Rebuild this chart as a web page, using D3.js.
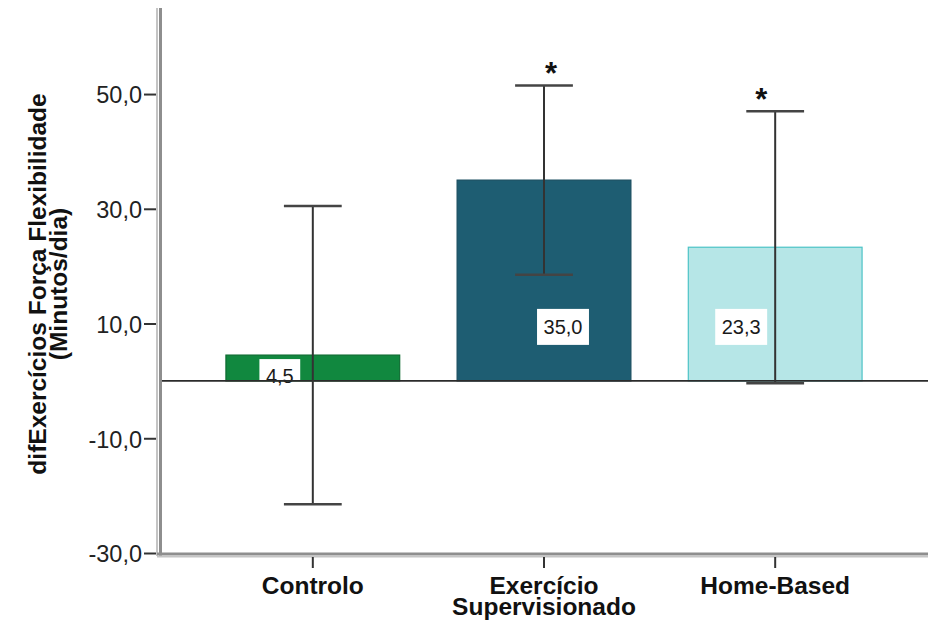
<!DOCTYPE html>
<html><head><meta charset="utf-8">
<script src="https://cdn.jsdelivr.net/npm/d3@7"></script>
<style>body{margin:0;background:#fff}svg{display:block}</style>
</head><body><svg id="c" width="933" height="623"></svg>
<script>
// ---- data ----
const categories = ["Controlo", "Exercício Supervisionado", "Home-Based"];
const categoryLines = [["Controlo"], ["Exercício", "Supervisionado"], ["Home-Based"]];
const means = [4.5, 35.0, 23.3];
const ciLow = [-21.5, 18.5, -0.4];
const ciHigh = [30.5, 51.5, 47.0];
const significant = [false, true, true];
const yTicks = [-30, -10, 10, 30, 50];
const yTitle = ["difExercícios Força Flexibilidade", "(Minutos/dia)"];
const fills = ["#11883f", "#1e5d72", "#b6e6e7"];
const edges = ["#0d6b31", "#184d5f", "#4cc3c6"];

// ---- layout ----
const W = 933, H = 623;
const plot = {left: 160, right: 928, top: 8, bottom: 553};
const labelDx = [-33, 19, -34];   // SPSS label placement (px from bar centre)
const labelDy = [-5, -54, -54];    // px from zero line
const starDx = [0, 7, -14];

const svg = d3.select("#c");
const loc = d3.formatLocale({decimal: ",", thousands: ".", grouping: [3], currency: ["", ""], minus: "-"});
const fmt = loc.format(".1f");

const x = d3.scaleBand().domain(categories).range([plot.left, plot.right])
  .paddingInner(0.244).paddingOuter(0.283);
const y = d3.scaleLinear().domain([-30, 65]).range([plot.bottom, plot.top]);
const font = "'Liberation Sans', Arial, sans-serif";

const data = categories.map((c, i) => ({c, i, m: means[i], lo: ciLow[i], hi: ciHigh[i], sig: significant[i]}));

// bars
svg.append("g").selectAll("rect").data(data).join("rect")
  .attr("x", d => x(d.c) + 0.5)
  .attr("width", x.bandwidth() - 1)
  .attr("y", d => y(Math.max(0, d.m)))
  .attr("height", d => Math.abs(y(d.m) - y(0)))
  .attr("fill", d => fills[d.i])
  .attr("stroke", d => edges[d.i])
  .attr("stroke-width", 1.2);

// value labels
const lab = svg.append("g");
data.forEach(d => {
  const cx = x(d.c) + x.bandwidth() / 2 + labelDx[d.i];
  const cy = y(0) + labelDy[d.i];
  const t = lab.append("text").attr("x", cx).attr("y", cy)
    .attr("text-anchor", "middle").attr("dominant-baseline", "central")
    .attr("font-family", font).attr("font-size", 20).attr("fill", "#1a1a1a")
    .text(fmt(d.m));
  const bb = t.node().getBBox();
  let top = cy - 18, bot = cy + 18;
  if (d.m > 0) { top = Math.max(top, y(d.m) + 4); bot = Math.min(bot, y(0)); }
  lab.insert("rect", "text").attr("x", bb.x - 6.5).attr("width", bb.width + 13)
    .attr("y", top).attr("height", bot - top).attr("fill", "#fff");
});

// zero line
svg.append("line").attr("x1", plot.left).attr("x2", plot.right)
  .attr("y1", y(0)).attr("y2", y(0)).attr("stroke", "#2b2b2b").attr("stroke-width", 1.6);

// error bars
const capW = x.step() * 0.125;
const eg = svg.append("g").attr("stroke", "#333").attr("stroke-width", 2);
data.forEach(d => {
  const cx = x(d.c) + x.bandwidth() / 2;
  eg.append("line").attr("x1", cx).attr("x2", cx).attr("y1", y(d.hi)).attr("y2", y(d.lo));
  eg.append("line").attr("x1", cx - capW).attr("x2", cx + capW).attr("y1", y(d.hi)).attr("y2", y(d.hi)).attr("stroke", "#444").attr("stroke-width", 2.5);
  eg.append("line").attr("x1", cx - capW).attr("x2", cx + capW).attr("y1", y(d.lo)).attr("y2", y(d.lo)).attr("stroke", "#444").attr("stroke-width", 2.5);
  if (d.sig) {
    svg.append("text").attr("x", cx + starDx[d.i]).attr("y", y(d.hi) - 1)
      .attr("text-anchor", "middle").attr("font-family", font).attr("font-weight", "bold")
      .attr("font-size", 31).attr("fill", "#111").text("*");
  }
});

// axes lines (grey double)
const ax = svg.append("g");
ax.append("line").attr("x1", 157).attr("x2", 157).attr("y1", plot.top).attr("y2", plot.bottom + 3)
  .attr("stroke", "#c4c4c4").attr("stroke-width", 2);
ax.append("line").attr("x1", 160.5).attr("x2", 160.5).attr("y1", plot.top).attr("y2", plot.bottom + 3)
  .attr("stroke", "#8e8e8e").attr("stroke-width", 3);
ax.append("line").attr("x1", 157).attr("x2", plot.right).attr("y1", plot.bottom + 1).attr("y2", plot.bottom + 1)
  .attr("stroke", "#8e8e8e").attr("stroke-width", 3);
ax.append("line").attr("x1", 157).attr("x2", plot.right).attr("y1", plot.bottom + 3.5).attr("y2", plot.bottom + 3.5)
  .attr("stroke", "#c4c4c4").attr("stroke-width", 2);

// y axis ticks
const ya = svg.append("g").attr("transform", `translate(${156},0)`)
  .call(d3.axisLeft(y).tickValues(yTicks).tickFormat(fmt).tickSize(12).tickPadding(2));
ya.select(".domain").remove();
ya.selectAll(".tick line").attr("stroke", "#333").attr("stroke-width", 2);
ya.selectAll(".tick text").attr("font-family", font).attr("font-size", 23.5).attr("fill", "#222")
  .attr("dy", "0.38em");

// x axis ticks
const xa = svg.append("g").attr("transform", `translate(0,${plot.bottom + 4})`)
  .call(d3.axisBottom(x).tickSize(11).tickFormat(""));
xa.select(".domain").remove();
xa.selectAll(".tick line").attr("stroke", "#333").attr("stroke-width", 2);
xa.selectAll(".tick").each(function(c, i) {
  const g = d3.select(this);
  categoryLines[i].forEach((ln, k) => g.append("text").attr("text-anchor", "middle")
    .attr("font-family", font).attr("font-weight", "bold").attr("font-size", 24.5).attr("fill", "#111")
    .attr("x", 0).attr("y", 37 + k * 21).text(ln));
});

// y title
const yt = svg.append("text").attr("transform", `translate(0,${284}) rotate(-90)`)
  .attr("text-anchor", "middle").attr("font-family", font).attr("font-weight", "bold")
  .attr("font-size", 24.5).attr("fill", "#111");
yTitle.forEach((ln, k) => yt.append("tspan").attr("x", 0).attr("y", 46 + k * 20.5).text(ln));
</script></body></html>
